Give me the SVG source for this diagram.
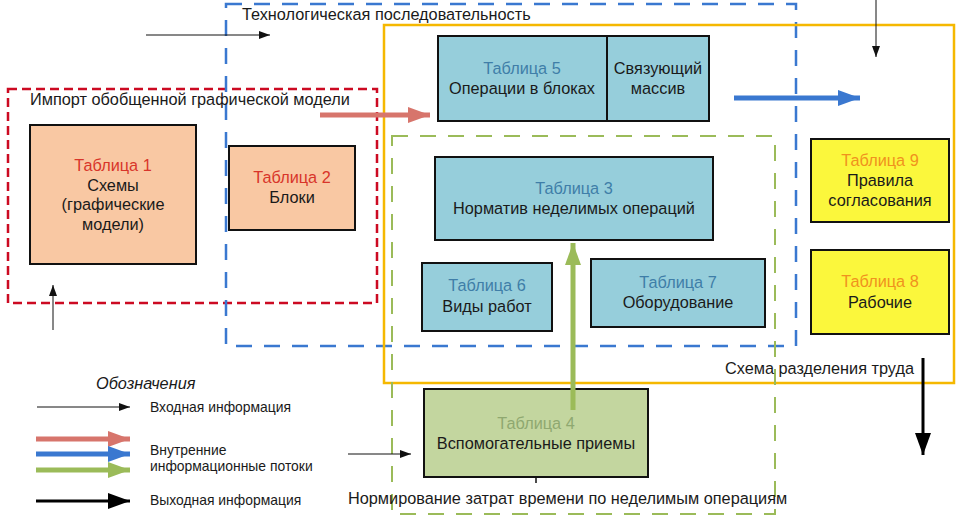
<svg xmlns="http://www.w3.org/2000/svg" width="956" height="528" viewBox="0 0 956 528">
<style>
text{font-family:"Liberation Sans",Arial,sans-serif;font-size:16.3px;fill:#1a1a1a}
.c{text-anchor:middle}
.lr{fill:#d8352a}
.lb{fill:#3f7ea8}
.lo{fill:#f0921e}
.lg{fill:#8fa870}
.sm{font-size:13.9px}
.box{stroke:#111;stroke-width:2}
.peach{fill:#f9c8a3}
.teal{fill:#96cedb}
.yel{fill:#fbf73c}
.olive{fill:#c3d69f}
.frame{fill:none}
.thin{stroke:#111;stroke-width:1;fill:none}
.thick{stroke-width:5;fill:none}
</style>
<defs>
<marker id="ah" markerUnits="userSpaceOnUse" markerWidth="12" markerHeight="10" refX="11" refY="4" orient="auto"><path d="M0,0 L11,4 L0,8 Z" fill="#111"/></marker>
<marker id="ahr" markerUnits="userSpaceOnUse" markerWidth="24" markerHeight="18" refX="22" refY="8" orient="auto"><path d="M0,0 L22,8 L0,16 Z" fill="#d7756c"/></marker>
<marker id="ahb" markerUnits="userSpaceOnUse" markerWidth="24" markerHeight="18" refX="22" refY="8" orient="auto"><path d="M0,0 L22,8 L0,16 Z" fill="#3a78d0"/></marker>
<marker id="ahg" markerUnits="userSpaceOnUse" markerWidth="24" markerHeight="18" refX="22" refY="8" orient="auto"><path d="M0,0 L22,8 L0,16 Z" fill="#9bbb59"/></marker>
<marker id="ahk" markerUnits="userSpaceOnUse" markerWidth="24" markerHeight="18" refX="22" refY="8" orient="auto"><path d="M0,0 L22,8 L0,16 Z" fill="#000"/></marker>
</defs>

<g id="frames">
<rect id="frame-import" class="frame" x="8" y="89" width="369" height="214" stroke="#cc0a22" stroke-width="2.5" stroke-dasharray="9,5"/>
<rect id="frame-tech" class="frame" x="226" y="4" width="570" height="342" stroke="#3a78d0" stroke-width="2.5" stroke-dasharray="16,12"/>
<rect id="frame-labor" class="frame" x="384" y="25" width="570" height="358" stroke="#f5b800" stroke-width="2.5"/>
<rect id="frame-norm" class="frame" x="392" y="136" width="383" height="378" stroke="#9bbb59" stroke-width="2" stroke-dasharray="16,12"/>
</g>

<g id="frame-labels">
<text x="242" y="20">Технологическая последовательность</text>
<text x="30" y="105">Импорт обобщенной графической модели</text>
<text x="914" y="374" text-anchor="end">Схема разделения труда</text>
<text x="348" y="504">Нормирование затрат времени по неделимым операциям</text>
</g>

<g id="table1">
<rect class="box peach" x="30" y="125" width="166" height="139"/>
<text class="c lr" x="113" y="171">Таблица 1</text>
<text class="c" x="113" y="191">Схемы</text>
<text class="c" x="113" y="210">(графические</text>
<text class="c" x="113" y="230">модели)</text>
</g>

<g id="table2">
<rect class="box peach" x="229" y="146" width="126" height="84"/>
<text class="c lr" x="292" y="183">Таблица 2</text>
<text class="c" x="292" y="203">Блоки</text>
</g>

<g id="table5">
<rect class="box teal" x="438" y="36" width="169" height="85"/>
<text class="c lb" x="522" y="74">Таблица 5</text>
<text class="c" x="522" y="94">Операции в блоках</text>
</g>

<g id="link-array">
<rect class="box teal" x="607" y="36" width="102" height="85"/>
<text class="c" x="658" y="74">Связующий</text>
<text class="c" x="658" y="94">массив</text>
</g>

<g id="table3">
<rect class="box teal" x="435" y="157" width="278" height="83"/>
<text class="c lb" x="574" y="194">Таблица 3</text>
<text class="c" x="574" y="214">Норматив неделимых операций</text>
</g>

<g id="table6">
<rect class="box teal" x="422" y="263" width="130" height="68"/>
<text class="c lb" x="487" y="291">Таблица 6</text>
<text class="c" x="487" y="312">Виды работ</text>
</g>

<g id="table7">
<rect class="box teal" x="591" y="259" width="174" height="68"/>
<text class="c lb" x="678" y="288">Таблица 7</text>
<text class="c" x="678" y="308">Оборудование</text>
</g>

<g id="table9">
<rect class="box yel" x="811" y="139" width="138" height="83"/>
<text class="c lo" x="880" y="166">Таблица 9</text>
<text class="c" x="880" y="186">Правила</text>
<text class="c" x="880" y="206">согласования</text>
</g>

<g id="table8">
<rect class="box yel" x="811" y="250" width="138" height="84"/>
<text class="c lo" x="880" y="287">Таблица 8</text>
<text class="c" x="880" y="308">Рабочие</text>
</g>

<g id="table4">
<rect class="box olive" x="424" y="389" width="224" height="88"/>
<text class="c lg" x="536" y="429">Таблица 4</text>
<text class="c" x="536" y="449">Вспомогательные приемы</text>
<line x1="536" y1="477" x2="536" y2="483" stroke="#111" stroke-width="1.5"/>
</g>

<g id="connectors">
<line class="thin" x1="146" y1="35" x2="270" y2="35" marker-end="url(#ah)"/>
<line class="thin" x1="876" y1="0" x2="876" y2="57" marker-end="url(#ah)"/>
<line class="thin" x1="53" y1="330" x2="53" y2="285" marker-end="url(#ah)"/>
<line class="thin" x1="348" y1="454" x2="411" y2="454" marker-end="url(#ah)"/>
<line class="thick" stroke="#d7756c" x1="320" y1="115" x2="430" y2="115" marker-end="url(#ahr)"/>
<line class="thick" stroke="#3a78d0" x1="734" y1="98" x2="860" y2="98" marker-end="url(#ahb)"/>
<line class="thick" stroke="#9bbb59" x1="573" y1="410" x2="573" y2="243" marker-end="url(#ahg)"/>
<line stroke="#000" stroke-width="3" x1="923" y1="358" x2="923" y2="455" marker-end="url(#ahk)"/>
</g>

<g id="legend">
<text x="96" y="389" font-style="italic">Обозначения</text>
<line class="thin" x1="37" y1="407" x2="130" y2="407" marker-end="url(#ah)"/>
<text class="sm" x="150" y="412">Входная информация</text>
<line class="thick" stroke="#d7756c" x1="36" y1="439" x2="130" y2="439" marker-end="url(#ahr)"/>
<line class="thick" stroke="#3a78d0" x1="36" y1="454" x2="130" y2="454" marker-end="url(#ahb)"/>
<line class="thick" stroke="#9bbb59" x1="36" y1="470" x2="130" y2="470" marker-end="url(#ahg)"/>
<text class="sm" x="150" y="455">Внутренние</text>
<text class="sm" x="150" y="471">информационные потоки</text>
<line stroke="#000" stroke-width="3" x1="36" y1="501" x2="130" y2="501" marker-end="url(#ahk)"/>
<text class="sm" x="150" y="505">Выходная информация</text>
</g>
</svg>
